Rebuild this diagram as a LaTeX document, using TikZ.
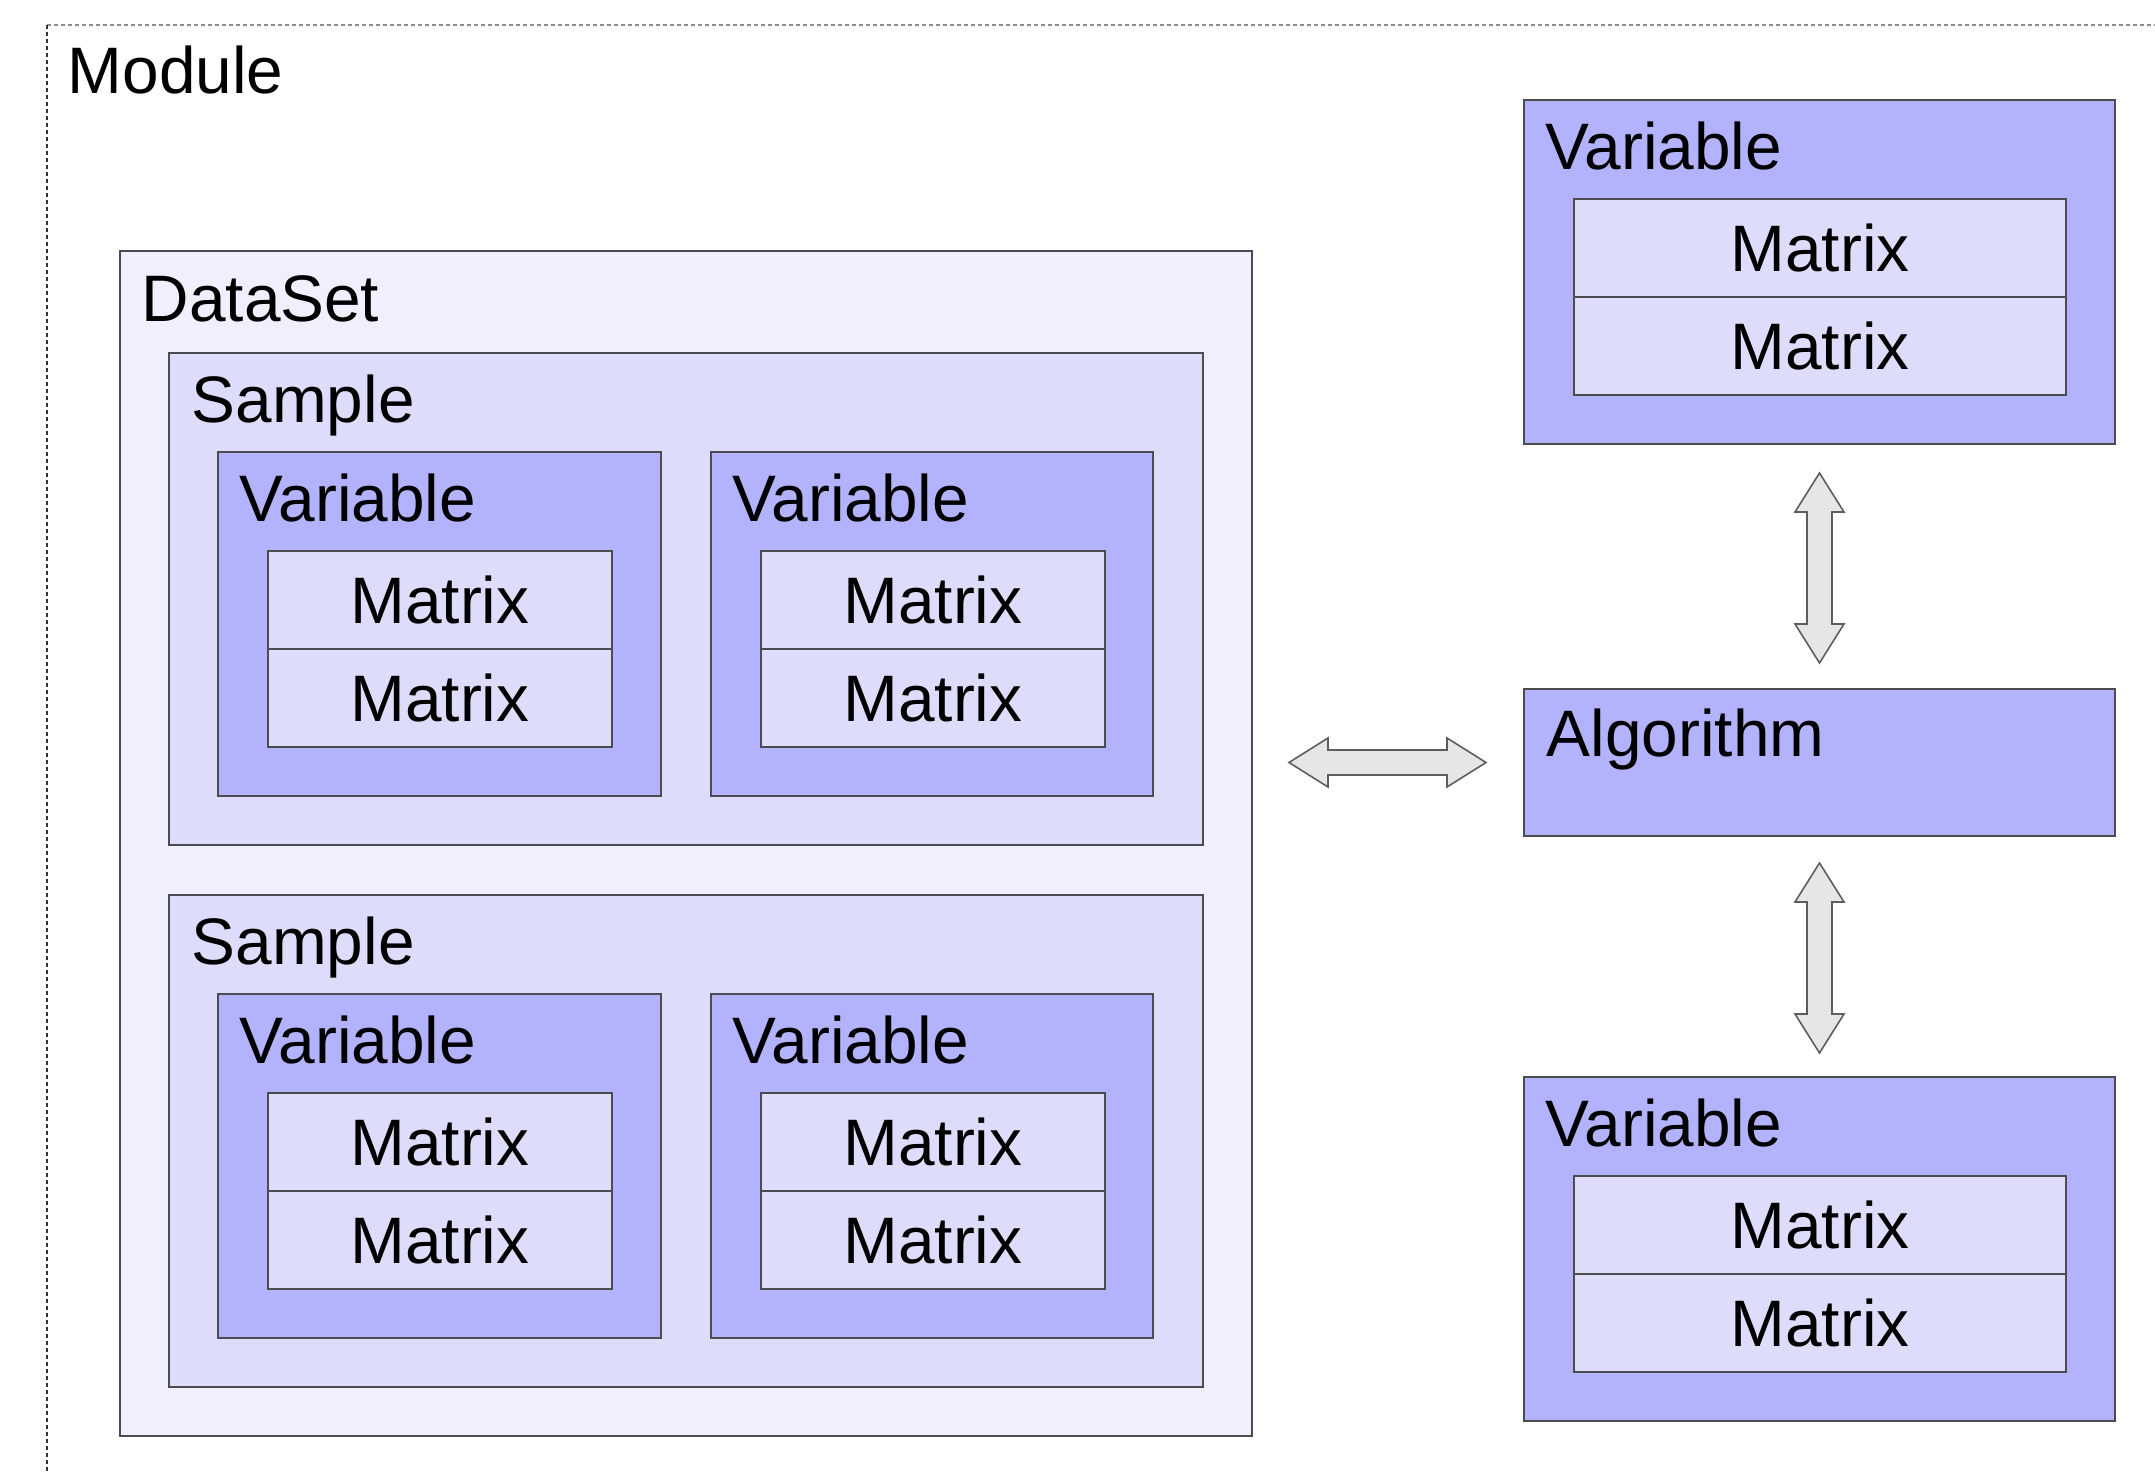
\documentclass[tikz,border=0pt]{standalone}
\usepackage{fontspec}
\setmainfont{Liberation Sans}
\usepackage{xcolor}
\usepackage{tikz}
\usetikzlibrary{calc}

\definecolor{setfill}{RGB}{239,239,253}
\definecolor{smpfill}{RGB}{221,221,251}
\definecolor{varfill}{RGB}{179,179,253}
\definecolor{edgecol}{RGB}{75,75,80}
\definecolor{arrfill}{RGB}{230,230,230}

% a variable box holding two matrices
% #1 name, #2 north west corner, #3 box width, #4 matrix width
\newcommand\varbox[4]{%
  \node[varnode, minimum width=#3] (#1) at (#2) {};
  \node[lbl] (#1-t) at ($(#1.north west)+(.21,.70)$) {Variable};
  \node[matnode, minimum width=#4] (#1-m1) at ($(#1.north west)+(.50,.99)$) {Matrix};
  \node[matnode, minimum width=#4, anchor=north] (#1-m2) at (#1-m1.south) {Matrix};
}

% block arrows, #1 and #2 are the two tips
\newcommand\harrow[2]{%
  \draw[blockarrow] (#1) -- ++(.39,-.245) -- ++(0,.12) -- ($(#2)+(-.39,-.125)$)
    -- ++(0,-.12) -- (#2) -- ++(-.39,.245) -- ++(0,-.12) -- ($(#1)+(.39,.125)$)
    -- ++(0,.12) -- cycle;
}
\newcommand\varrow[2]{%
  \draw[blockarrow] (#1) -- ++(-.245,.39) -- ++(.12,0) -- ($(#2)+(-.125,-.39)$)
    -- ++(-.12,0) -- (#2) -- ++(.245,-.39) -- ++(-.12,0) -- ($(#1)+(.125,.39)$)
    -- ++(.12,0) -- cycle;
}

\begin{document}
\begin{tikzpicture}[y=-1cm, line width=0.45pt,
    box/.style={draw=edgecol, anchor=north west, inner sep=0pt, outer sep=0pt},
    setnode/.style={box, fill=setfill},
    smpnode/.style={box, fill=smpfill, minimum width=10.34cm, minimum height=4.92cm},
    varnode/.style={box, fill=varfill, minimum height=3.44cm},
    matnode/.style={box, fill=smpfill, minimum height=0.98cm, font=\fontsize{18.7}{22}\selectfont},
    algnode/.style={box, fill=varfill, minimum width=5.91cm, minimum height=1.47cm},
    lbl/.style={anchor=base west, inner sep=0pt, font=\fontsize{18.7}{22}\selectfont},
    blockarrow/.style={draw=edgecol!90, fill=arrfill, line join=miter}]
  \useasboundingbox (0,0) rectangle (21.55,14.73);

  % module frame (runs off the page)
  \draw[gray!90, dash pattern=on 0.04cm off 0.03cm] (0.47,0.25) -- (21.55,0.25);
  \draw[black!80, dash pattern=on 0.04cm off 0.03cm] (0.47,0.25) -- (0.47,14.73);
  \node[lbl] (mod-t) at (0.67,0.94) {Module};

  % data set with two samples
  \node[setnode, minimum width=11.32cm, minimum height=11.85cm] (ds) at (1.20,2.51) {};
  \node[lbl] (ds-t) at ($(ds.north west)+(.21,.71)$) {DataSet};
  \foreach \s/\y in {1/3.53, 2/8.95} {
    \node[smpnode] (s\s) at (1.69,\y) {};
    \node[lbl] (s\s-t) at ($(s\s.north west)+(.22,.70)$) {Sample};
    \varbox{s\s-v1}{2.18,\y+0.99}{4.43cm}{3.44cm}
    \varbox{s\s-v2}{7.11,\y+0.99}{4.42cm}{3.44cm}
  }

  % algorithm and its variables
  \node[algnode] (alg) at (15.24,6.89) {};
  \node[lbl] (alg-t) at ($(alg.north west)+(.22,.68)$) {Algorithm};
  \varbox{vin}{15.24,1.00}{5.91cm}{4.92cm}
  \varbox{vout}{15.24,10.77}{5.91cm}{4.92cm}

  % links
  \harrow{$(ds.east |- alg.west)+(.37,0)$}{$(alg.west)+(-.38,0)$}
  \varrow{$(vin.south)+(0,.29)$}{$(alg.north)+(0,-.26)$}
  \varrow{$(alg.south)+(0,.27)$}{$(vout.north)+(0,-.24)$}
\end{tikzpicture}
\end{document}
